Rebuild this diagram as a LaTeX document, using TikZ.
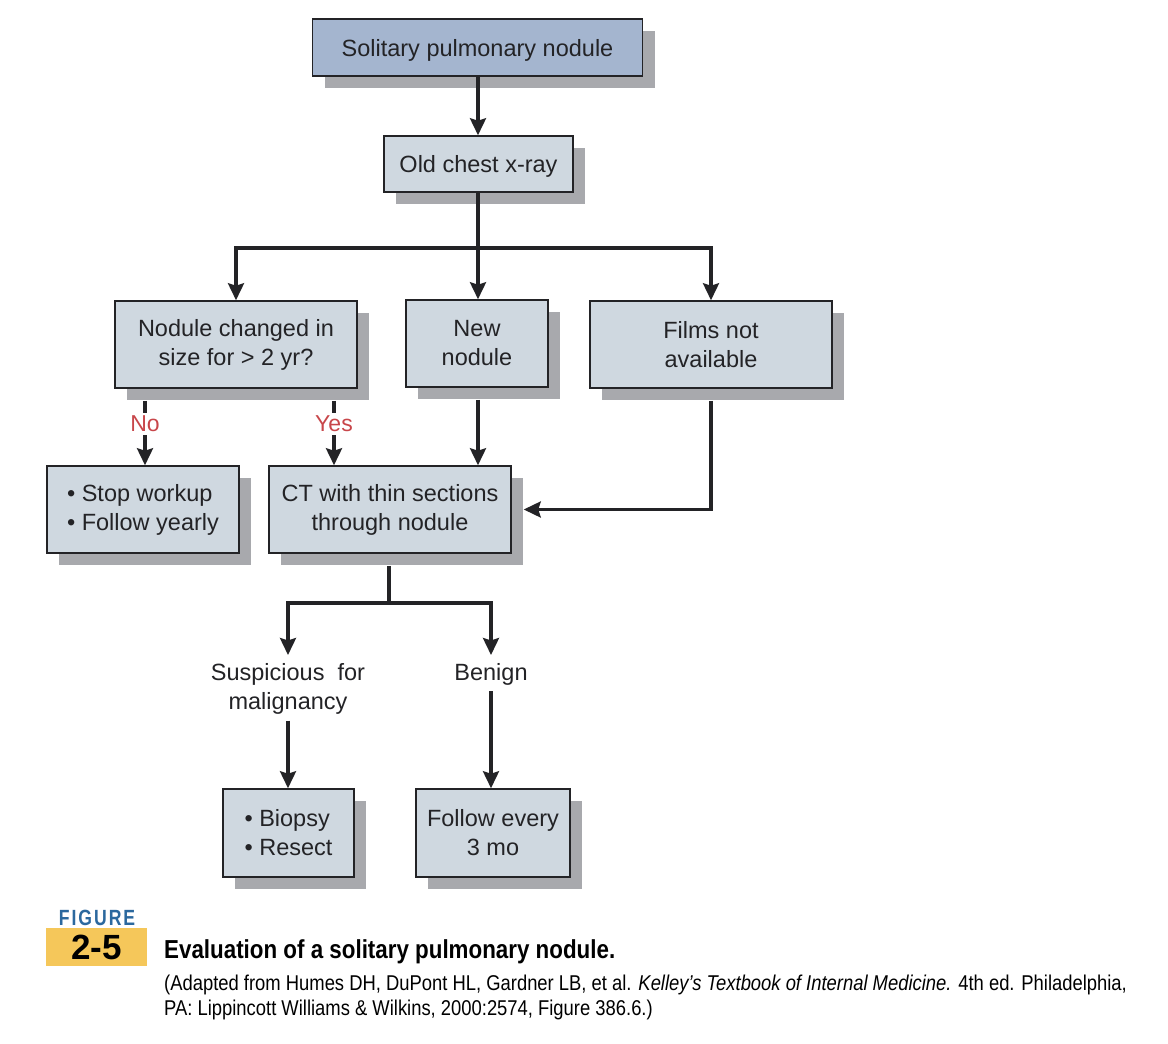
\documentclass[tikz,border=0pt]{standalone}
\usepackage{fontspec}
\setmainfont{Liberation Sans}
\newfontfamily\capfont[FakeStretch=0.86]{Liberation Sans}
\newfontfamily\figfont[FakeStretch=0.8,LetterSpace=9]{Liberation Sans}
\usetikzlibrary{shadows,arrows.meta}
\definecolor{boxfill}{RGB}{207,216,224}
\definecolor{topfill}{RGB}{164,181,207}
\definecolor{shade}{RGB}{168,169,173}
\definecolor{ink}{RGB}{35,35,38}
\definecolor{answer}{RGB}{200,70,74}
\definecolor{figblue}{RGB}{43,104,158}
\definecolor{figyellow}{RGB}{245,199,90}
\tikzset{
  box/.style={draw=ink,line width=1.5pt,fill=boxfill,text=ink,align=center,
    drop shadow={shadow xshift=12pt,shadow yshift=-12pt,fill=shade,opacity=1},
    font=\fontsize{23.5}{29}\selectfont,execute at begin node={\rule{0pt}{22.5pt}}},
  topbox/.style={box,fill=topfill},
  plain/.style={text=ink,align=center,inner sep=6pt,font=\fontsize{23.5}{29}\selectfont},
  ans/.style={text=answer,inner sep=3pt,font=\fontsize{23}{29}\selectfont},
  line/.style={ink,line width=3.2pt},
  flow/.style={line,-{Stealth[width=16pt,length=17pt,inset=2.5pt]}},
}
\begin{document}
\begin{tikzpicture}[x=1pt,y=-1pt]
  \useasboundingbox[fill=white] (0,0) rectangle (1168,1044);

  \node[topbox,minimum width=330pt,minimum height=57pt] (spn) at (477.5,47.5) {Solitary pulmonary nodule};
  \node[box,minimum width=189pt,minimum height=56pt] (xray) at (478.5,164) {Old chest x-ray};
  \node[box,minimum width=242pt,minimum height=87pt] (chg) at (236,344.5) {Nodule changed in\\size for > 2 yr?};
  \node[box,minimum width=142pt,minimum height=87pt] (new) at (477,343.5) {New\\nodule};
  \node[box,minimum width=242pt,minimum height=87pt] (films) at (711,344.5) {Films not\\available};
  \node[box,minimum width=192pt,minimum height=87pt,align=left] (stop) at (143,509.5) {\textbullet\ Stop workup\\\textbullet\ Follow yearly};
  \node[box,minimum width=242pt,minimum height=87pt] (ct) at (390,509.5) {CT with thin sections\\through nodule};
  \node[plain] (susp) at (288,689) {Suspicious\ \ for\\malignancy};
  \node[plain] (benign) at (491,674) {Benign};
  \node[box,minimum width=131pt,minimum height=88pt,align=left] (biopsy) at (288.5,833) {\textbullet\ Biopsy\\\textbullet\ Resect};
  \node[box,minimum width=154pt,minimum height=88pt] (follow) at (493,833) {Follow every\\3 mo};
  \node[ans] (no) at (145,424) {No};
  \node[ans] (yes) at (334,424) {Yes};

  \coordinate (split1) at (478,248);
  \coordinate (split2) at (389,603);
  \coordinate (lvl) at (0,655);

  \draw[flow] (spn.south -| split1) -- (split1 |- xray.north);
  \draw[line] (xray.south -| split1) -- (split1);
  \draw[flow] (split1) -| (chg.north);
  \draw[flow] (split1) -- (split1 |- new.north);
  \draw[flow] (split1) -| (films.north);
  \draw[line] (chg.south -| no) ++(0,12) -- (no);
  \draw[flow] (no) -- (no |- stop.north);
  \draw[line] (chg.south -| yes) ++(0,12) -- (yes);
  \draw[flow] (yes) -- (yes |- ct.north);
  \draw[flow] (new.south -| split1) ++(0,12) -- (split1 |- ct.north);
  \draw[flow] (films.south) ++(0,12) |- ([xshift=12pt]ct.east);
  \draw[line] (ct.south -| split2) ++(0,12) -- (split2);
  \draw[flow] (split2) -| (susp |- lvl);
  \draw[flow] (split2) -| (benign |- lvl);
  \draw[flow] (susp) -- (susp |- biopsy.north);
  \draw[flow] (benign) -- (benign |- follow.north);

  % caption
  \node[text=figblue,font=\figfont\bfseries\fontsize{22}{24}\selectfont,inner sep=0pt] (figword) at (97,918) {FIGURE};
  \node[fill=figyellow,minimum width=101pt,minimum height=38pt,inner sep=0pt,font=\bfseries\fontsize{35}{36}\selectfont] (fignum) at (96.5,947) {2-5};
  \node[anchor=base west,inner sep=0pt,font=\capfont\bfseries\fontsize{26}{30}\selectfont] (title) at (164,958) {Evaluation of a solitary pulmonary nodule.};
  \node[anchor=base west,inner sep=0pt,font=\capfont\fontsize{21.4}{24}\selectfont] (src1) at (164,990) {(Adapted from Humes DH, DuPont HL, Gardner LB, et al. \textit{Kelley’s Textbook of Internal Medicine.} 4th ed. Philadelphia,};
  \node[anchor=base west,inner sep=0pt,font=\capfont\fontsize{21.4}{24}\selectfont] (src2) at (164,1015) {PA: Lippincott Williams \& Wilkins, 2000:2574, Figure 386.6.)};
\end{tikzpicture}
\end{document}
